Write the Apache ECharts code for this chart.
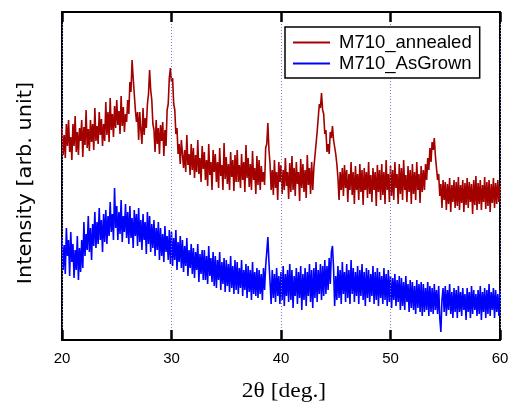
<!DOCTYPE html>
<html>
<head>
<meta charset="utf-8">
<script src="https://cdn.jsdelivr.net/npm/echarts@6/dist/echarts.min.js"></script>
<style>html,body{margin:0;padding:0;background:#fff}#c{width:512px;height:404px}</style>
</head>
<body>
<div id="c"></div>
<script>
// 2θ sampling grid (deg)
const thetaStart = 20;
const thetaStep = 0.1;
const xTicks = [20, 30, 40, 50, 60];
const seriesNames = ['M710_annealed', 'M710_AsGrown'];
const xTitle = '2θ [deg.]';
const yTitle = 'Intensity [arb. unit]';

// Intensity (arb. unit), one value per 0.1 deg from 20 to 60
const annealed = [
212,185,205,182,216,194,220,188,203,180,
216,194,224,188,208,185,212,199,220,183,
213,195,230,192,211,189,220,198,216,190,
232,199,214,196,228,205,221,194,216,199,
238,205,228,198,242,210,226,203,234,212,
240,215,229,206,244,214,233,208,226,218,
240,226,258,248,280,262,246,230,218,228,
200,228,210,196,232,205,222,212,236,246,
270,250,240,216,210,188,220,196,212,186,
215,199,218,184,210,194,230,236,262,272,
258,262,236,230,206,212,186,196,176,200,
198,172,190,168,205,175,186,165,196,170,
192,162,185,168,200,166,182,158,194,171,
188,160,180,154,196,165,178,150,190,168,
186,158,178,152,192,164,175,150,197,161,
183,156,176,150,188,163,180,149,185,158,
190,158,175,152,186,160,178,148,195,162,
182,153,176,150,189,160,172,146,184,155,
180,150,174,158,168,155,192,196,217,190,
176,150,170,145,180,152,168,140,178,158,
175,146,170,150,182,154,168,141,177,148,
184,150,172,144,178,156,168,139,181,152,
176,148,170,142,185,155,172,146,178,150,
172,184,186,208,210,236,232,247,230,226,
206,210,188,196,186,208,202,214,200,198,
186,176,162,140,168,150,172,144,175,152,
170,138,166,150,178,145,168,136,174,150,
166,140,176,148,170,135,172,150,168,142,
178,146,165,138,172,150,168,134,175,148,
170,140,176,145,168,136,180,150,166,138,
174,144,170,140,178,152,166,136,176,146,
172,140,180,150,165,138,174,148,170,136,
176,146,168,140,178,150,166,137,174,148,
170,150,176,160,182,170,192,178,198,190,
202,184,186,160,166,144,156,132,160,140,
158,130,156,136,162,128,155,138,160,132,
158,134,163,130,155,137,160,128,157,135,
162,132,158,138,156,126,160,135,164,130,
157,136,160,130,155,138,163,131,158,134,
160,128,156,137,162,132,157,136,160,138,
154
];
const asGrown = [
102,70,95,66,112,84,100,64,108,78,
96,62,90,70,104,60,92,68,100,72,
118,84,106,90,124,88,112,80,116,94,
128,92,118,96,132,100,120,88,126,98,
130,96,124,104,138,108,126,100,152,112,
134,100,128,106,140,98,124,108,136,102,
128,96,134,102,122,92,130,104,126,94,
132,98,120,90,126,100,118,86,128,96,
124,88,116,92,120,84,112,90,118,80,
112,84,106,78,114,88,104,80,110,76,
108,74,102,80,110,70,98,78,104,72,
100,68,94,74,102,64,90,72,96,66,
92,62,88,70,96,58,86,66,90,60,
90,60,84,56,94,64,82,58,88,54,
84,52,80,60,88,50,78,56,82,48,
80,54,76,48,84,52,74,46,80,50,
78,46,72,52,80,44,70,50,76,42,
74,48,70,40,78,46,68,44,72,42,
70,46,66,40,72,50,74,88,103,78,
58,36,70,42,66,38,72,44,64,36,
68,40,74,34,66,44,70,38,76,40,
70,32,64,44,72,36,68,42,74,30,
66,40,72,34,68,44,76,38,70,32,
72,42,78,38,70,46,76,40,74,44,
80,46,74,50,82,56,88,94,72,34,
64,40,74,42,70,36,78,46,68,38,
76,42,70,36,80,46,72,38,68,44,
74,36,70,44,76,40,68,34,72,42,
70,38,66,44,74,36,68,40,72,34,
68,42,64,36,72,40,66,34,70,38,
64,32,62,40,66,34,60,38,64,30,
62,34,58,30,64,38,56,28,60,32,
58,30,54,26,60,32,56,28,58,24,
56,28,52,30,58,24,54,28,52,26,
56,30,50,26,54,22,8,40,52,28,
54,24,50,30,56,26,48,22,52,28,
50,22,54,28,48,24,52,30,46,20,
52,28,48,22,54,26,50,30,46,24,
50,26,54,20,48,28,52,22,50,26,
56,24,48,30,52,22,50,28,46,24,
50
];

function toPairs(vals) {
  return vals.map((v, i) => [+(thetaStart + i * thetaStep).toFixed(2), v]);
}

const chart = echarts.init(document.getElementById('c'), null, {renderer: 'canvas'});
function axisLine() { return {show: true, onZero: false, lineStyle: {color: '#000', width: 2}}; }
function tick() { return {show: true, inside: true, length: 10, lineStyle: {color: '#000', width: 2.5}}; }
chart.setOption({
  animation: false,
  backgroundColor: '#fff',
  grid: {left: 62, right: 12, top: 12, bottom: 64, containLabel: false},
  legend: {
    data: seriesNames,
    orient: 'vertical',
    left: 285,
    top: 27,
    icon: 'rect',
    itemWidth: 37,
    itemHeight: 2,
    itemGap: 2,
    padding: [6, 8, 5, 8],
    borderColor: '#000',
    borderWidth: 1.5,
    backgroundColor: '#fff',
    z: 10,
    textStyle: {fontSize: 18.5, fontFamily: 'Liberation Sans', color: '#000', padding: [0, 0, 0, 4], lineHeight: 19}
  },
  xAxis: [
    {
      type: 'value', min: xTicks[0], max: xTicks[xTicks.length - 1], interval: 10,
      position: 'bottom', z: 6,
      axisLine: axisLine(),
      axisTick: tick(),
      axisLabel: {show: true, fontSize: 15, fontFamily: 'Liberation Sans', color: '#000', margin: 11},
      splitLine: {show: true, lineStyle: {color: '#7a7ad8', width: 1, type: [1, 2]}}
    },
    {
      type: 'value', min: xTicks[0], max: xTicks[xTicks.length - 1], interval: 10,
      position: 'top', z: 6,
      axisLine: axisLine(),
      axisTick: tick(),
      axisLabel: {show: false},
      splitLine: {show: false}
    }
  ],
  yAxis: [
    {
      type: 'value', min: 0, max: 328, position: 'left',
      axisLine: axisLine(),
      axisTick: {show: false}, axisLabel: {show: false}, splitLine: {show: false}
    },
    {
      type: 'value', min: 0, max: 328, position: 'right',
      axisLine: axisLine(),
      axisTick: {show: false}, axisLabel: {show: false}, splitLine: {show: false}
    }
  ],
  series: [
    {
      name: seriesNames[0], type: 'line', data: toPairs(annealed),
      xAxisIndex: 0, yAxisIndex: 0, showSymbol: false, symbol: 'none',
      color: '#a30000', lineStyle: {color: '#a30000', width: 1.6}, z: 3
    },
    {
      name: seriesNames[1], type: 'line', data: toPairs(asGrown),
      xAxisIndex: 0, yAxisIndex: 0, showSymbol: false, symbol: 'none',
      color: '#0000ff', lineStyle: {color: '#0000ff', width: 1.6}, z: 3
    }
  ],
  graphic: [
    {
      type: 'text', x: 26, y: 183, rotation: Math.PI / 2, scaleX: 1.1,
      style: {text: yTitle, fontSize: 19, fontFamily: 'DejaVu Sans', fill: '#000', align: 'center', verticalAlign: 'middle'}
    },
    {
      type: 'text', x: 284, y: 391, scaleX: 1.12,
      style: {text: xTitle, fontSize: 21, fontFamily: 'Liberation Serif', fill: '#000', align: 'center', verticalAlign: 'middle'}
    }
  ]
});
</script>
</body>
</html>
